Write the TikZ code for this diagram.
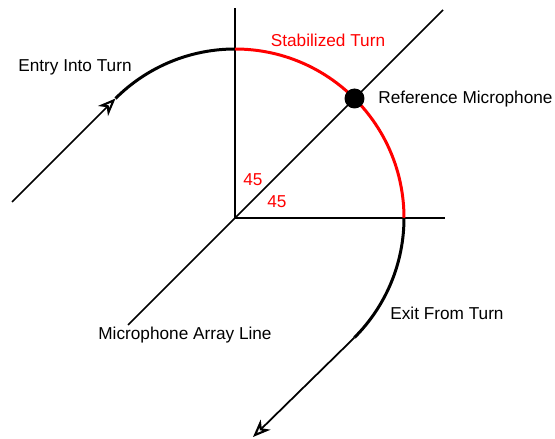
\documentclass[tikz,border=0pt]{standalone}
\usepackage{fontspec}
\setmainfont{Liberation Sans}
\usepackage{tikz}
\usetikzlibrary{arrows.meta}
\pgfdeclarelayer{edgelayer}
\pgfdeclarelayer{nodelayer}
\pgfsetlayers{edgelayer,main,nodelayer}
\tikzstyle{axis}=[draw=black, line width=1pt]
\tikzstyle{turn}=[draw=black, line width=1.7pt]
\tikzstyle{stable}=[draw=red, line width=1.7pt]
\tikzstyle{flightleg}=[draw=black, line width=1pt, -{Stealth[open, length=10pt, width=8pt, inset=3pt, line width=1.2pt]}]
\tikzstyle{mic}=[circle, fill=black, inner sep=0pt, minimum size=0.4cm]
\tikzstyle{label}=[font=\fontsize{9.8}{12}\selectfont, inner sep=0pt]

\begin{document}
\begin{tikzpicture}[x=0.02cm, y=0.02cm]
	\useasboundingbox (-235, -221) rectangle (320, 218);
	\begin{pgfonlayer}{nodelayer}
		\coordinate (o) at (0, 0);
		\coordinate (vtop) at (0, 210);
		\coordinate (hend) at (210, 0);
		\coordinate (dtop) at (208, 208);
		\coordinate (dbot) at (-107, -107);
		\coordinate (top) at (0, 169);
		\coordinate (right) at (169, 0);
		\coordinate (entry) at (-223, 16);
		\coordinate (entryjoin) at (-119.5, 119.5);
		\coordinate (exitjoin) at (119.5, -119.5);
		\coordinate (exit) at (18, -219);
		\node [style=mic] (refmic) at (119.5, 119.5) {};
		\node [style=label, text=red] (stab) at (93, 178) {Stabilized Turn};
		\node [style=label, anchor=west] (reflabel) at (143, 119) {Reference Microphone};
		\node [style=label, text=red] (ang1) at (18, 38) {45};
		\node [style=label, text=red] (ang2) at (42, 16) {45};
		\node [style=label] (entrylabel) at (-160, 151) {Entry Into Turn};
		\node [style=label] (arraylabel) at (-50, -117) {Microphone Array Line};
		\node [style=label, anchor=west] (exitlabel) at (155, -95) {Exit From Turn};
	\end{pgfonlayer}
	\begin{pgfonlayer}{edgelayer}
		\draw [style=axis] (o) to (vtop);
		\draw [style=axis] (o) to (hend);
		\draw [style=axis] (dbot) to (dtop);
		\draw [style=flightleg] (entry) to (entryjoin);
		\draw [style=flightleg] (exitjoin) to (exit);
	\end{pgfonlayer}
	\draw [style=turn] (top) arc (90:135:169);
	\draw [style=stable] (top) arc (90:0:169);
	\draw [style=turn] (right) arc (0:-45:169);
\end{tikzpicture}
\end{document}
